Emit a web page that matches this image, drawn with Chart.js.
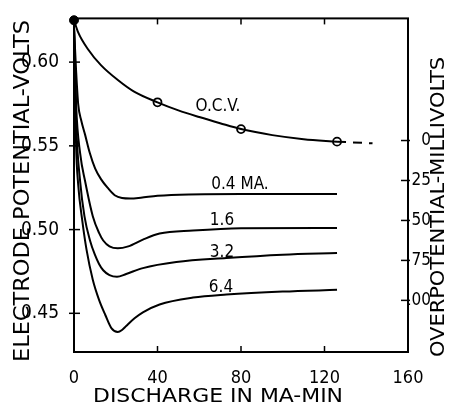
<!DOCTYPE html>
<html><head><meta charset="utf-8">
<script src="https://cdn.jsdelivr.net/npm/chart.js@4.4.0/dist/chart.umd.min.js"></script>
<style>html,body{margin:0;padding:0;background:#fff}#wrap{width:449px;height:405px;position:relative}</style>
</head><body><div id="wrap"><canvas id="c"></canvas></div>
<script>
// ---- data ----
const ocvX = [0, 2, 6.7, 12.9, 21, 29, 40, 50, 60, 70, 80, 95, 110, 126];
const ocvY = [0.625, 0.6178, 0.6077, 0.5982, 0.5893, 0.5822, 0.576, 0.5712, 0.5672, 0.5635, 0.560, 0.5564, 0.5540, 0.5525];
const ocvExtX = [126, 143];
const ocvExtY = [0.5525, 0.5515];
const ocvMarkX = [40, 80, 126];
const ocvMarkY = [0.576, 0.560, 0.5525];
const ocvStartX = [0];
const ocvStartY = [0.625];

const c04X = [0, 1, 2, 3.5, 5.3, 7.5, 10.1, 13, 16.3, 19.5, 23, 27, 32, 40, 55, 80, 126];
const c04Y = [0.621, 0.595, 0.575, 0.565, 0.5567, 0.546, 0.5366, 0.530, 0.5247, 0.5205, 0.5188, 0.5185, 0.519, 0.5202, 0.521, 0.5212, 0.5212];
const c16X = [0, 1, 3, 5.3, 9, 12, 14, 17, 21, 26, 33, 41, 57, 80, 126];
const c16Y = [0.621, 0.575, 0.545, 0.529, 0.508, 0.498, 0.4935, 0.490, 0.4888, 0.490, 0.494, 0.4976, 0.4994, 0.5008, 0.501];
const c32X = [0, 1, 3, 5, 7.7, 10, 12, 14, 17, 20.6, 25, 33, 49, 73, 100, 126];
const c32Y = [0.621, 0.565, 0.528, 0.508, 0.4933, 0.485, 0.4795, 0.4757, 0.4728, 0.4718, 0.4735, 0.477, 0.4806, 0.483, 0.485, 0.486];
const c64X = [0, 1, 2, 4, 6, 9, 12, 15, 18, 21, 23, 25, 29, 33, 41, 57, 73, 100, 126];
const c64Y = [0.621, 0.55, 0.527, 0.505, 0.488, 0.47, 0.458, 0.449, 0.441, 0.4388, 0.440, 0.4424, 0.447, 0.4506, 0.4553, 0.4594, 0.4612, 0.463, 0.464];

const xTicks = [0, 40, 80, 120, 160];
const leftTicks = [0.45, 0.50, 0.55, 0.60];
const rightTicks = [0, 25, 50, 75, 100];

const curveLabels = ['O.C.V.', '0.4 MA.', '1.6', '3.2', '6.4'];
const xTitle = 'DISCHARGE IN MA-MIN';
const yTitle = 'ELECTRODE POTENTIAL-VOLTS';
const y2Title = 'OVERPOTENTIAL-MILLIVOLTS';

// ---- presentation ----
const FAM = '"DejaVu Sans Condensed", "DejaVu Sans", sans-serif';
const labelPos = [[69, 0.5733], [79.5, 0.5271], [70.9, 0.5051], [70.9, 0.4862], [70.4, 0.4654]];
const pts = (xs, ys) => xs.map((x, i) => ({x, y: ys[i]}));
const lineDs = (xs, ys) => ({data: pts(xs, ys), borderColor: '#000', borderWidth: 2, pointRadius: 0,
  cubicInterpolationMode: 'monotone', fill: false, yAxisID: 'y'});

function fitText(ctx, text, cx, cy, rot, width, size) {
  ctx.save();
  ctx.font = size + 'px ' + FAM;
  const w = ctx.measureText(text).width;
  ctx.translate(cx, cy); ctx.rotate(rot); ctx.scale(width / w, 1);
  ctx.textAlign = 'center'; ctx.textBaseline = 'middle'; ctx.fillStyle = '#000';
  ctx.fillText(text, 0, 0);
  ctx.restore();
}

const framePlugin = {
  id: 'frame',
  afterDatasetsDraw(chart) {
    const {ctx, chartArea: a, scales} = chart;
    const line = (x1, y1, x2, y2) => { ctx.beginPath(); ctx.moveTo(x1, y1); ctx.lineTo(x2, y2); ctx.stroke(); };
    ctx.save();
    ctx.strokeStyle = '#000';
    ctx.lineWidth = 2;
    ctx.strokeRect(a.left, a.top, a.right - a.left, a.bottom - a.top);
    ctx.lineWidth = 1.5;
    scales.x.ticks.forEach((t, i) => {
      const px = scales.x.getPixelForTick(i);
      if (px <= a.left + 1 || px >= a.right - 1) return;
      line(px, a.bottom, px, a.bottom - 6);
      line(px, a.top, px, a.top + 6);
    });
    scales.y.ticks.forEach((t, i) => { const py = scales.y.getPixelForTick(i); line(a.left - 5, py, a.left + 6, py); });
    scales.y2.ticks.forEach((t, i) => { const py = scales.y2.getPixelForTick(i); line(a.right - 7, py, a.right + 2, py); });
    // curve labels
    ctx.fillStyle = '#000';
    ctx.font = '17px ' + FAM;
    ctx.textAlign = 'center'; ctx.textBaseline = 'middle';
    curveLabels.forEach((s, i) => {
      ctx.fillText(s, scales.x.getPixelForValue(labelPos[i][0]), scales.y.getPixelForValue(labelPos[i][1]));
    });
    ctx.restore();
    // axis titles
    fitText(ctx, yTitle, 24, 191, -Math.PI / 2, 342, 21);
    fitText(ctx, y2Title, 439, 207, -Math.PI / 2, 300, 20);
    fitText(ctx, xTitle, 218, 397, 0, 250, 20);
  }
};

new Chart(document.getElementById('c'), {
  type: 'line',
  data: {
    datasets: [
      lineDs(ocvX, ocvY),
      Object.assign(lineDs(ocvExtX, ocvExtY), {borderDash: [9, 7], cubicInterpolationMode: 'default', tension: 0}),
      lineDs(c04X, c04Y),
      lineDs(c16X, c16Y),
      lineDs(c32X, c32Y),
      lineDs(c64X, c64Y),
      {data: pts(ocvMarkX, ocvMarkY), showLine: false, pointRadius: 4, pointBackgroundColor: '#fff',
        pointBorderColor: '#000', pointBorderWidth: 1.8, yAxisID: 'y'},
      {data: pts(ocvStartX, ocvStartY), showLine: false, pointRadius: 4.5, pointBackgroundColor: '#000',
        pointBorderColor: '#000', pointBorderWidth: 1, yAxisID: 'y', clip: false}
    ]
  },
  options: {
    responsive: true, maintainAspectRatio: false, animation: false,
    layout: {padding: {top: 16, left: 0, right: 18, bottom: 0}},
    plugins: {legend: {display: false}, tooltip: {enabled: false}},
    scales: {
      x: {
        type: 'linear', min: 0, max: 160,
        afterBuildTicks: s => { s.ticks = xTicks.map(v => ({value: v})); },
        afterFit: s => { s.height = 53; },
        grid: {display: false}, border: {display: false},
        ticks: {color: '#000', padding: 8, maxRotation: 0, font: {family: FAM, size: 18}}
      },
      y: {
        type: 'linear', position: 'left', min: 0.4269, max: 0.6261,
        afterBuildTicks: s => { s.ticks = leftTicks.map(v => ({value: v})); },
        afterFit: s => { s.width = 74; },
        grid: {display: false}, border: {display: false},
        ticks: {color: '#000', padding: 7, font: {family: FAM, size: 19}, callback: v => v.toFixed(2)}
      },
      y2: {
        type: 'linear', position: 'right', reverse: true, min: -76.4, max: 132.3,
        afterBuildTicks: s => { s.ticks = rightTicks.map(v => ({value: v})); },
        afterFit: s => { s.width = 23; },
        grid: {display: false}, border: {display: false},
        ticks: {color: '#000', padding: 4, crossAlign: 'far', font: {family: FAM, size: 17}}
      }
    }
  },
  plugins: [framePlugin]
});
</script>
</body></html>
